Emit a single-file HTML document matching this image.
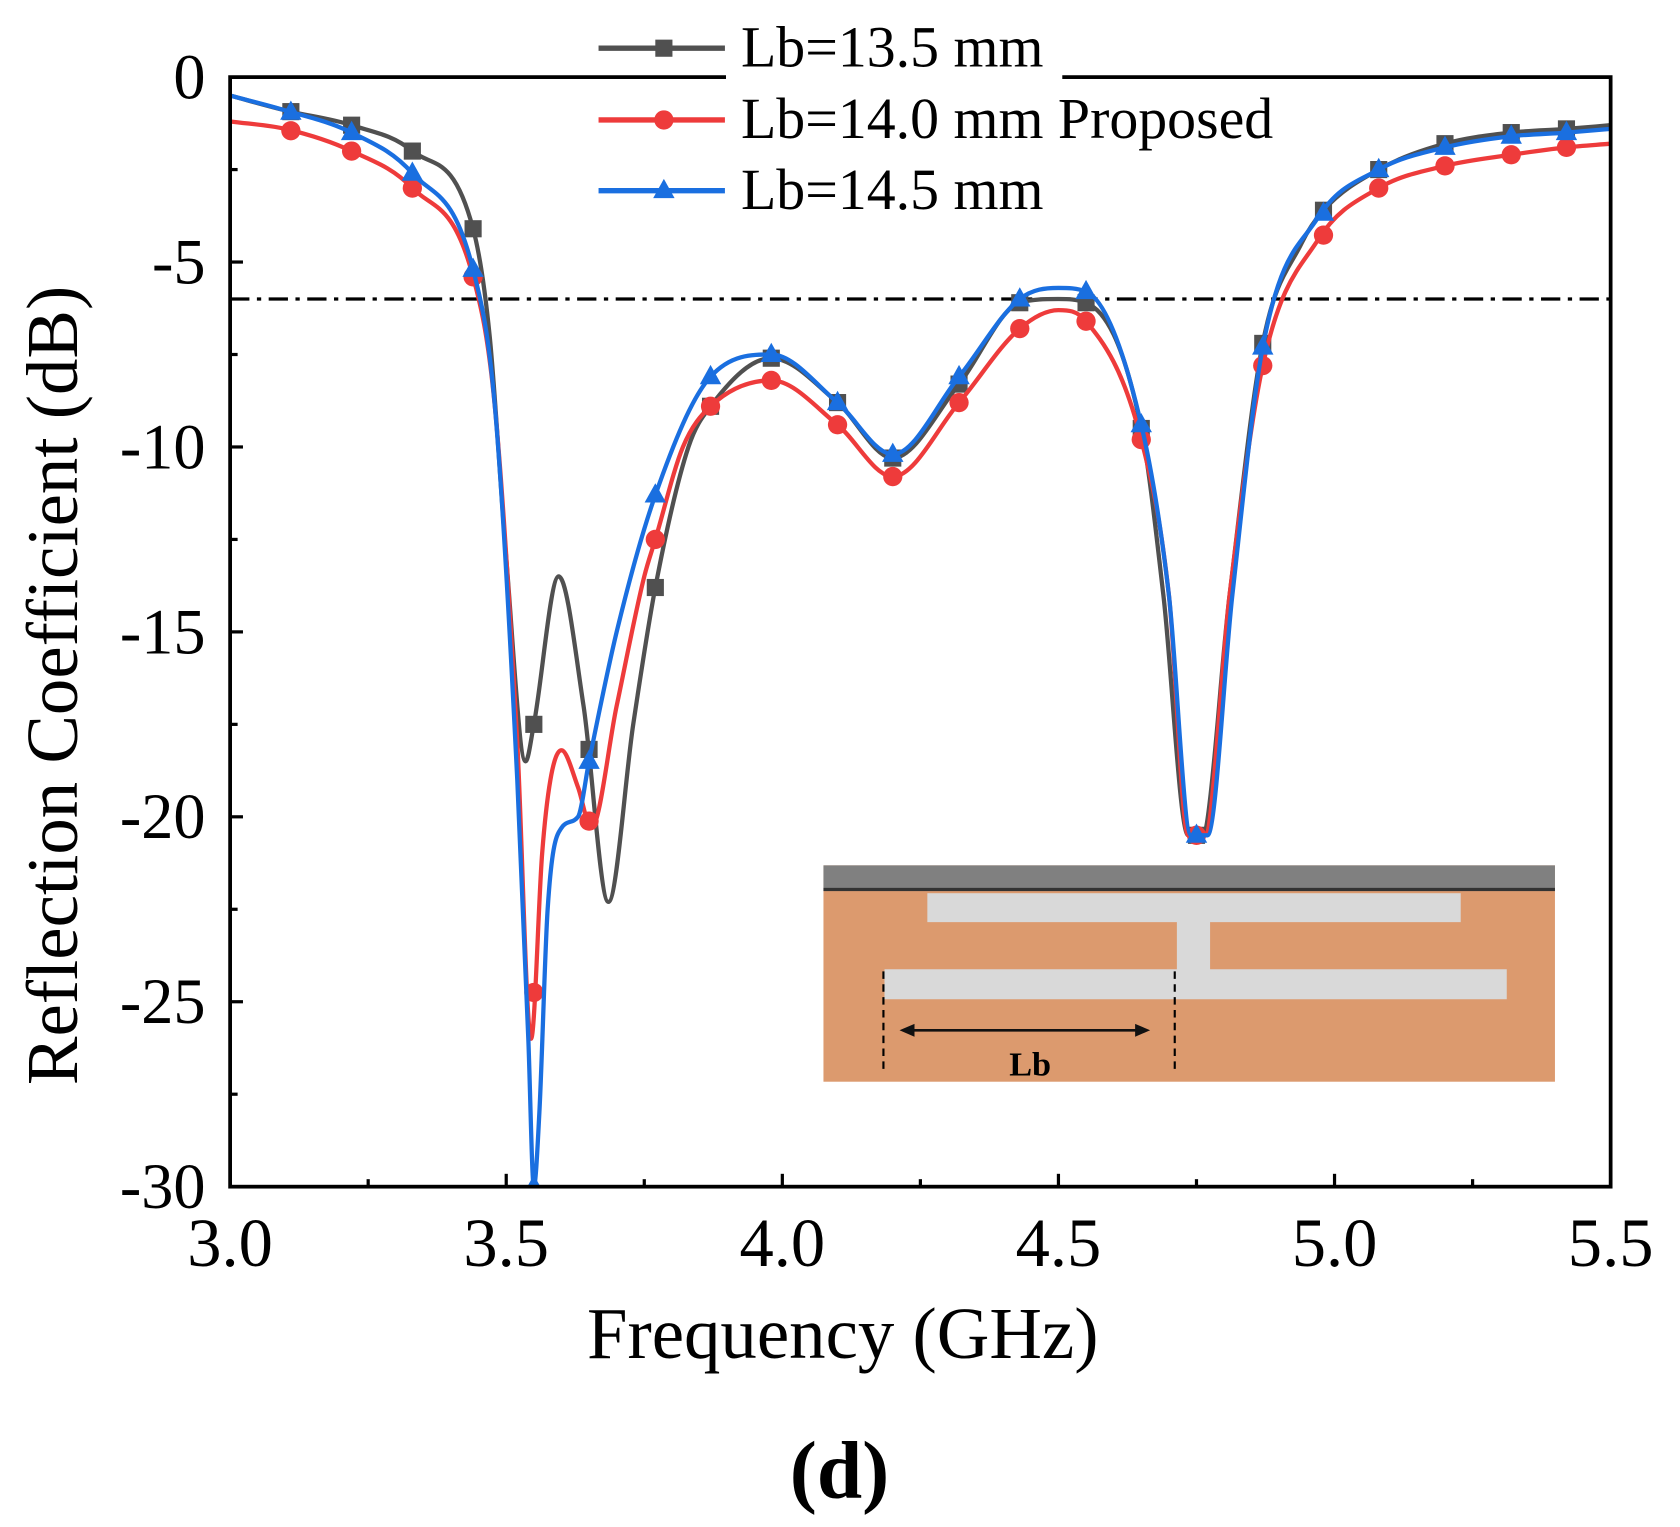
<!DOCTYPE html>
<html><head><meta charset="utf-8"><style>
html,body{margin:0;padding:0;background:#fff;width:1680px;height:1527px;overflow:hidden}
svg{display:block}
text{font-family:"Liberation Serif",serif;fill:#000}
</style></head><body>
<svg id="chart" width="1680" height="1527" viewBox="0 0 1680 1527">
<g id="root" transform="translate(2,0) scale(1.071)"></g>
</svg>
<script>
const xTicks=[3.0,3.5,4.0,4.5,5.0,5.5];
const xTickLabels=["3.0","3.5","4.0","4.5","5.0","5.5"];
const yTicks=[0,-5,-10,-15,-20,-25,-30];
const yTickLabels=["0","-5","-10","-15","-20","-25","-30"];
const seriesNames=["Lb=13.5 mm","Lb=14.0 mm Proposed","Lb=14.5 mm"];
const f135=[3.0,3.1,3.22,3.33,3.44,3.47,3.5,3.535,3.55,3.595,3.64,3.685,3.73,3.77,3.83,3.87,3.98,4.1,4.2,4.32,4.43,4.5,4.55,4.65,4.69,4.735,4.76,4.81,4.87,4.94,4.98,5.08,5.2,5.32,5.42,5.5];
const s135=[-0.5,-0.9,-1.3,-2.0,-4.1,-7,-13,-18.5,-17.5,-13.5,-17,-22.3,-17.5,-13.8,-10,-8.9,-7.6,-8.8,-10.3,-8.3,-6.1,-6.0,-6.1,-9.5,-14,-20.5,-20.5,-14,-7.2,-4.5,-3.6,-2.5,-1.8,-1.5,-1.4,-1.3];
const f140=[3.0,3.1,3.22,3.33,3.44,3.48,3.52,3.545,3.565,3.58,3.6,3.63,3.654,3.7,3.75,3.77,3.82,3.87,3.98,4.1,4.2,4.32,4.43,4.5,4.55,4.65,4.7,4.735,4.765,4.81,4.87,4.97,5.08,5.2,5.32,5.42,5.5];
const s140=[-1.2,-1.4,-2.0,-3.0,-5.4,-9,-18,-26,-21,-19,-18.2,-19.2,-20.3,-17,-13.5,-12.5,-10,-8.9,-8.2,-9.4,-10.8,-8.8,-6.8,-6.3,-6.6,-9.8,-14,-20.5,-20.5,-14,-7.8,-4.4,-3.0,-2.4,-2.1,-1.9,-1.8];
const f145=[3.0,3.1,3.22,3.33,3.44,3.48,3.52,3.54,3.55,3.56,3.575,3.6,3.63,3.65,3.7,3.77,3.87,3.98,4.1,4.2,4.32,4.43,4.5,4.55,4.65,4.7,4.74,4.77,4.815,4.87,4.97,5.08,5.2,5.32,5.42,5.5];
const s145=[-0.5,-0.9,-1.5,-2.6,-5.2,-9,-19,-26,-30,-28,-22.5,-20.3,-20,-18.5,-15,-11.3,-8.1,-7.5,-8.8,-10.2,-8.1,-6.0,-5.7,-5.8,-9.4,-14,-20.5,-20.5,-14,-7.3,-3.8,-2.5,-1.9,-1.6,-1.5,-1.4];
const markerF=[3.11,3.22,3.33,3.44,3.55,3.65,3.77,3.87,3.98,4.1,4.2,4.32,4.43,4.55,4.65,4.75,4.87,4.98,5.08,5.2,5.32,5.42];
const thresholdDb=-6;

const NS="http://www.w3.org/2000/svg";
const root=document.getElementById('root');
const X0=213,X1=1502,Y0=72,Y1=1108;
function sx(f){return X0+(f-3.0)/(5.5-3.0)*(X1-X0);}
function sy(d){return Y0+(0-d)/30*(Y1-Y0);}
function mk(tag,attrs,parent){const e=document.createElementNS(NS,tag);for(const k in attrs)e.setAttribute(k,attrs[k]);(parent||root).appendChild(e);return e;}
function interp(fs,ss,f){for(let i=0;i<fs.length-1;i++){if(f>=fs[i]&&f<=fs[i+1]){const t=(f-fs[i])/(fs[i+1]-fs[i]);return ss[i]+t*(ss[i+1]-ss[i]);}}return ss[ss.length-1];}
// monotone cubic (Fritsch-Carlson) path
function smoothPath(fs,ss){
  const px=fs.map(sx),py=ss.map(v=>sy(Math.max(v,-30)));const n=px.length;
  const d=[],m=new Array(n);
  for(let i=0;i<n-1;i++)d.push((py[i+1]-py[i])/(px[i+1]-px[i]));
  m[0]=d[0];m[n-1]=d[n-2];
  for(let i=1;i<n-1;i++){if(d[i-1]*d[i]<=0)m[i]=0;else{m[i]=(d[i-1]+d[i])/2;}}
  for(let i=0;i<n-1;i++){if(d[i]===0){m[i]=0;m[i+1]=0;continue;}const a=m[i]/d[i],b=m[i+1]/d[i],s=a*a+b*b;if(s>9){const t=3/Math.sqrt(s);m[i]=t*a*d[i];m[i+1]=t*b*d[i];}}
  let p="M"+px[0]+","+py[0];
  for(let i=0;i<n-1;i++){const h=(px[i+1]-px[i])/3;p+=` C${px[i]+h},${py[i]+m[i]*h} ${px[i+1]-h},${py[i+1]-m[i+1]*h} ${px[i+1]},${py[i+1]}`;}
  return p;
}

const defs=mk('defs',{});const cp=mk('clipPath',{id:'pc'},defs);mk('rect',{x:X0,y:Y0-5,width:X1-X0,height:Y1-Y0+5},cp);

let th=mk('line',{x1:X0,x2:X1,y1:sy(thresholdDb),y2:sy(thresholdDb),stroke:'#000','stroke-width':3,'stroke-dasharray':'18,7,4,7'});



const ig=mk('g',{});


mk('rect',{x:767,y:808,width:683,height:202,fill:'#dc9a6e'},ig);
mk('rect',{x:767,y:808,width:683,height:24,fill:'#808080'},ig);
mk('rect',{x:767,y:829,width:683,height:3,fill:'#333'},ig);
mk('rect',{x:864,y:834,width:498,height:27,fill:'#d9d9d9'},ig);
mk('rect',{x:1097,y:860,width:31,height:46,fill:'#d9d9d9'},ig);
mk('rect',{x:824,y:905,width:581,height:28,fill:'#d9d9d9'},ig);
mk('line',{x1:823,x2:823,y1:907,y2:998,stroke:'#000','stroke-width':2,'stroke-dasharray':'7,5'},ig);
mk('line',{x1:1095,x2:1095,y1:907,y2:998,stroke:'#000','stroke-width':2,'stroke-dasharray':'7,5'},ig);
mk('line',{x1:850,x2:1060,y1:962,y2:962,stroke:'#111','stroke-width':2.5},ig);
mk('path',{d:'M838,962 L852,956 L852,968 Z',fill:'#111'},ig);
mk('path',{d:'M1072,962 L1058,956 L1058,968 Z',fill:'#111'},ig);
const lbt=mk('text',{x:960,y:1004,'text-anchor':'middle','font-size':32,'font-weight':'bold'},ig);lbt.textContent='Lb';



const colors=['#505050','#ee3b3b','#1a6fe0'];
const allF=[f135,f140,f145],allS=[s135,s140,s145];
const serNames=['series-lb-13-5','series-lb-14-0','series-lb-14-5'];
function marker(type,x,y,c,parent){
  if(type===0)return mk('rect',{x:x-8,y:y-8,width:16,height:16,fill:c},parent);
  if(type===1)return mk('circle',{cx:x,cy:y,r:9,fill:c},parent);
  return mk('path',{d:`M${x},${y-11} L${x+10},${y+7} L${x-10},${y+7} Z`,fill:c},parent);
}
for(let k=0;k<3;k++){
  const g=mk('g',{'clip-path':'url(#pc)'});
  
  
  mk('path',{d:smoothPath(allF[k],allS[k]),fill:'none',stroke:colors[k],'stroke-width':4,'stroke-linejoin':'round'},g);
  markerF.forEach(f=>{let v=interp(allF[k],allS[k],f);const m=marker(k,sx(f),sy(v),colors[k],g);
    
    });
}

const fr=mk('rect',{x:X0,y:Y0,width:X1-X0,height:Y1-Y0,fill:'none',stroke:'#000','stroke-width':3.5});


for(let v=0;v>=-30;v-=2.5){const maj=(v%5===0);mk('line',{x1:X0,x2:X0+(maj?12:7),y1:sy(v),y2:sy(v),stroke:'#000','stroke-width':3});}
for(let f=3.0;f<=5.501;f+=0.25){const maj=Math.abs((f*2)-Math.round(f*2))<1e-6;mk('line',{x1:sx(f),x2:sx(f),y1:Y1,y2:Y1-(maj?12:7),stroke:'#000','stroke-width':3});}
yTicks.forEach((v,i)=>{const t=mk('text',{x:190,y:sy(v)+20,'text-anchor':'end','font-size':60});t.textContent=yTickLabels[i];
  
  });
xTicks.forEach((f,i)=>{const t=mk('text',{x:sx(f),y:1182,'text-anchor':'middle','font-size':64});t.textContent=xTickLabels[i];
  
  });
const yt=mk('text',{x:0,y:0,'text-anchor':'middle','font-size':68,transform:'translate(70,640) rotate(-90)'});yt.textContent='Reflection Coefficient (dB)';


const xt=mk('text',{x:785,y:1268,'text-anchor':'middle','font-size':68});xt.textContent='Frequency (GHz)';


const pl=mk('text',{x:782,y:1398,'text-anchor':'middle','font-size':76,'font-weight':'bold'});pl.textContent='(d)';



const lg=mk('g',{});


mk('rect',{x:676,y:62,width:314,height:20,fill:'#fff'},lg);
const ly=[45,112,178];
for(let k=0;k<3;k++){
  const e=mk('g',{},lg);
  
  
  mk('line',{x1:557,x2:675,y1:ly[k],y2:ly[k],stroke:colors[k],'stroke-width':5},e);
  marker(k,618,ly[k],colors[k],e);
  const t=mk('text',{x:690,y:ly[k]+17,'font-size':54},e);t.textContent=seriesNames[k];
}
</script>
</body></html>
